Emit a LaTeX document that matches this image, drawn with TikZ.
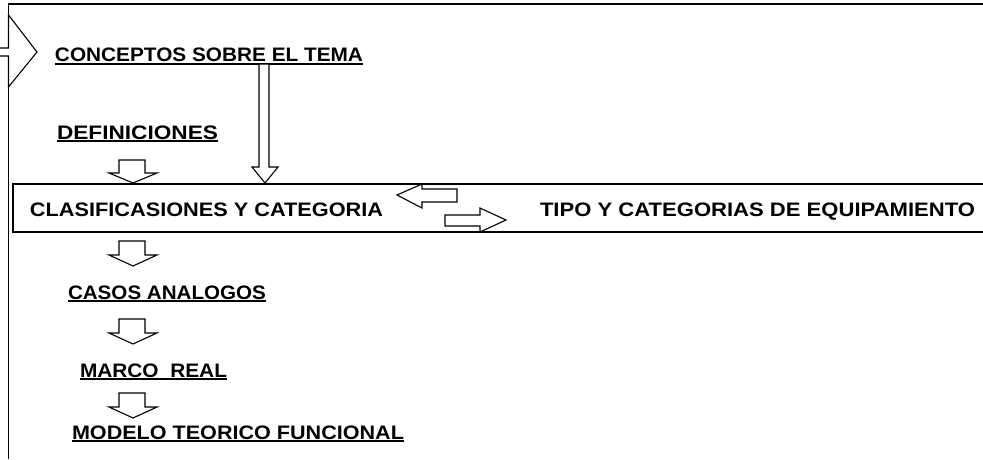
\documentclass[tikz,border=0pt]{standalone}
\usepackage{fontspec}
\usepackage{graphicx}
\setmainfont{Liberation Sans}
\newsavebox\myulbox
\newcommand\myul[1]{\sbox\myulbox{#1}\rlap{\rule[-3.2pt]{\wd\myulbox}{2pt}}\usebox\myulbox}
\newcommand\fitul[2]{\resizebox{#1}{\height}{\myul{#2}}}
\newcommand\fitplain[2]{\resizebox{#1}{\height}{#2}}
\tikzset{
  lbl/.style={anchor=base west, inner sep=0pt, outer sep=0pt, font=\fontsize{19.5}{23}\selectfont\bfseries},
  blk/.style={draw=black, line width=1.1pt, fill=white, line join=miter},
  frame/.style={draw=black, line width=1.6pt},
}
\begin{document}
\begin{tikzpicture}[x=1pt,y=-1pt]
\useasboundingbox (0,0) rectangle (983,459);
% frame lines
\draw[frame] (983,4) -- (8.5,4) -- (8.5,459);
% band box
\draw[frame] (983,184) -- (13,184) -- (13,232) -- (983,232);
% big left arrow (white filled, covering the frame line)
\draw[blk] (-1,48) -- (8.5,48) -- (8.5,15) -- (37,52) -- (8.5,87) -- (8.5,56) -- (-1,56);
% texts
\node[lbl] (conc) at (55,61.5) {\fitul{308pt}{CONCEPTOS SOBRE EL TEMA}};
\node[lbl] (defi) at (57,139) {\fitul{161pt}{DEFINICIONES}};
\node[lbl] (clas) at (30,216.5) {\fitplain{353pt}{CLASIFICASIONES Y CATEGORIA}};
\node[lbl] (tipo) at (540,216.5) {\fitplain{435pt}{TIPO Y CATEGORIAS DE EQUIPAMIENTO}};
\node[lbl] (caso) at (68,299) {\fitul{198pt}{CASOS ANALOGOS}};
\node[lbl] (marc) at (80,377) {\fitul{147pt}{MARCO\ \ REAL}};
\node[lbl] (mode) at (72,439) {\fitul{332pt}{MODELO TEORICO FUNCIONAL}};
% long vertical arrow
\draw[blk] (259,64) -- (269,64) -- (269,167) -- (278,167) -- (265,183) -- (252,167) -- (259,167) -- cycle;
% small down arrows
\foreach \t/\h/\p in {160/173/183, 241/255/266, 319/333/344, 393/407/418}{
  \draw[blk] (119,\t) -- (145,\t) -- (145,\h) -- (157,\h) -- (133,\p) -- (109,\h) -- (119,\h) -- cycle;
}
% left and right arrows
\draw[blk] (397,195) -- (422,184) -- (422,189) -- (457,189) -- (457,202) -- (422,202) -- (422,208) -- cycle;
\draw[blk] (445,215) -- (480,215) -- (480,208) -- (506,220) -- (480,232) -- (480,226) -- (445,226) -- cycle;
\end{tikzpicture}
\end{document}
